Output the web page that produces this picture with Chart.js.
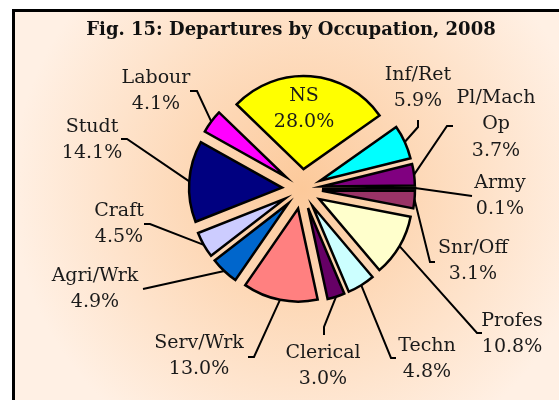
<!DOCTYPE html>
<html>
<head>
<meta charset="utf-8">
<script src="https://cdn.jsdelivr.net/npm/chart.js@4"></script>
<style>
  html, body { margin: 0; padding: 0; background: #fff; }
  canvas { display: block; }
</style>
</head>
<body>
<canvas id="pie" width="559" height="400"></canvas>
<script>
const title = "Fig. 15: Departures by Occupation, 2008";
const occupations = ["NS", "Inf/Ret", "Pl/Mach Op", "Army", "Snr/Off", "Profes", "Techn",
  "Clerical", "Serv/Wrk", "Agri/Wrk", "Craft", "Studt", "Labour"];
const shares = [28.0, 5.9, 3.7, 0.1, 3.1, 10.8, 4.8, 3.0, 13.0, 4.9, 4.5, 14.1, 4.1];

const sliceColors = ["#FFFF00", "#00FFFF", "#800080", "#800000", "#993366", "#FFFFCC", "#CCFFFF",
  "#660066", "#FF8080", "#0066CC", "#CCCCFF", "#000080", "#FF00FF"];

// label layout: centre of first text line, bend of leader, end of the short tick
const labelAt = [[304, 96], [418, 75], [496, 98], [500, 183], [473, 248], [512, 321], [427, 346],
  [323, 353], [199, 343], [95, 276], [119, 211], [92, 127], [156, 78]];
const bendAt = [null, [418, 127], [447, 126], [472, 196], [430, 262], [477, 333], [391, 358],
  [324, 327], [254, 357], [143, 289], [150, 224], [127, 139], [197, 91]];
const tickTo = [null, [418, 120], [453, 126], null, [435, 262], [482, 333], [396, 358],
  [324, 335], [248, 357], null, [144, 224], [121, 139], [190, 91]];

const explode = 20;
const lineGap = 26.5;

const piePlugin = {
  id: "piePlugin",
  beforeDraw(chart) {
    const ctx = chart.ctx;
    const a = chart.getDatasetMeta(0).data[0];
    ctx.save();
    const g = ctx.createRadialGradient(a.x, a.y, 0, a.x, a.y, 290);
    g.addColorStop(0, "#FCC99A");
    g.addColorStop(1, "#FFF0E4");
    ctx.fillStyle = g;
    ctx.fillRect(13, 10, 560, 400);
    ctx.strokeStyle = "#000";
    ctx.lineWidth = 3;
    ctx.beginPath();
    ctx.moveTo(13.5, 410);
    ctx.lineTo(13.5, 10.5);
    ctx.lineTo(570, 10.5);
    ctx.stroke();

    ctx.fillStyle = "#111";
    ctx.font = "bold 18px 'DejaVu Serif'";
    ctx.textAlign = "center";
    ctx.textBaseline = "middle";
    ctx.fillText(title, 291, 30);
    ctx.restore();
  },
  beforeDatasetDraw(chart, args) {
    const ctx = chart.ctx;
    args.meta.data.forEach(arc => {
      const mid = (arc.startAngle + arc.endAngle) / 2;
      ctx.save();
      ctx.translate(Math.cos(mid) * explode, Math.sin(mid) * explode);
      arc.draw(ctx);
      ctx.restore();
    });
    return false;
  },
  afterDatasetsDraw(chart) {
    const ctx = chart.ctx;
    const arcs = chart.getDatasetMeta(0).data;
    ctx.save();
    ctx.strokeStyle = "#000";
    ctx.lineWidth = 2;
    ctx.lineJoin = "miter";
    arcs.forEach((arc, i) => {
      if (!bendAt[i]) return;
      const mid = (arc.startAngle + arc.endAngle) / 2;
      const r = arc.outerRadius + explode;
      ctx.beginPath();
      ctx.moveTo(arc.x + Math.cos(mid) * r, arc.y + Math.sin(mid) * r);
      ctx.lineTo(bendAt[i][0], bendAt[i][1]);
      if (tickTo[i]) ctx.lineTo(tickTo[i][0], tickTo[i][1]);
      ctx.stroke();
    });

    ctx.fillStyle = "#1a1a1a";
    ctx.font = "19px 'DejaVu Serif'";
    ctx.textAlign = "center";
    ctx.textBaseline = "middle";
    occupations.forEach((name, i) => {
      const lines = name.split(" ").concat(shares[i].toFixed(1) + "%");
      lines.forEach((t, k) => ctx.fillText(t, labelAt[i][0], labelAt[i][1] + k * lineGap));
    });
    ctx.restore();
  }
};

new Chart(document.getElementById("pie"), {
  type: "pie",
  data: {
    labels: occupations,
    datasets: [{
      data: shares,
      backgroundColor: sliceColors,
      borderColor: "#000",
      borderWidth: 2.5,
      borderJoinStyle: "miter"
    }]
  },
  options: {
    responsive: false,
    animation: false,
    rotation: -46,
    radius: 93,
    layout: { padding: { left: 65, right: 20, top: 40, bottom: 62 } },
    plugins: {
      legend: { display: false },
      tooltip: { enabled: false },
      title: { display: false }
    }
  },
  plugins: [piePlugin]
});
</script>
</body>
</html>
